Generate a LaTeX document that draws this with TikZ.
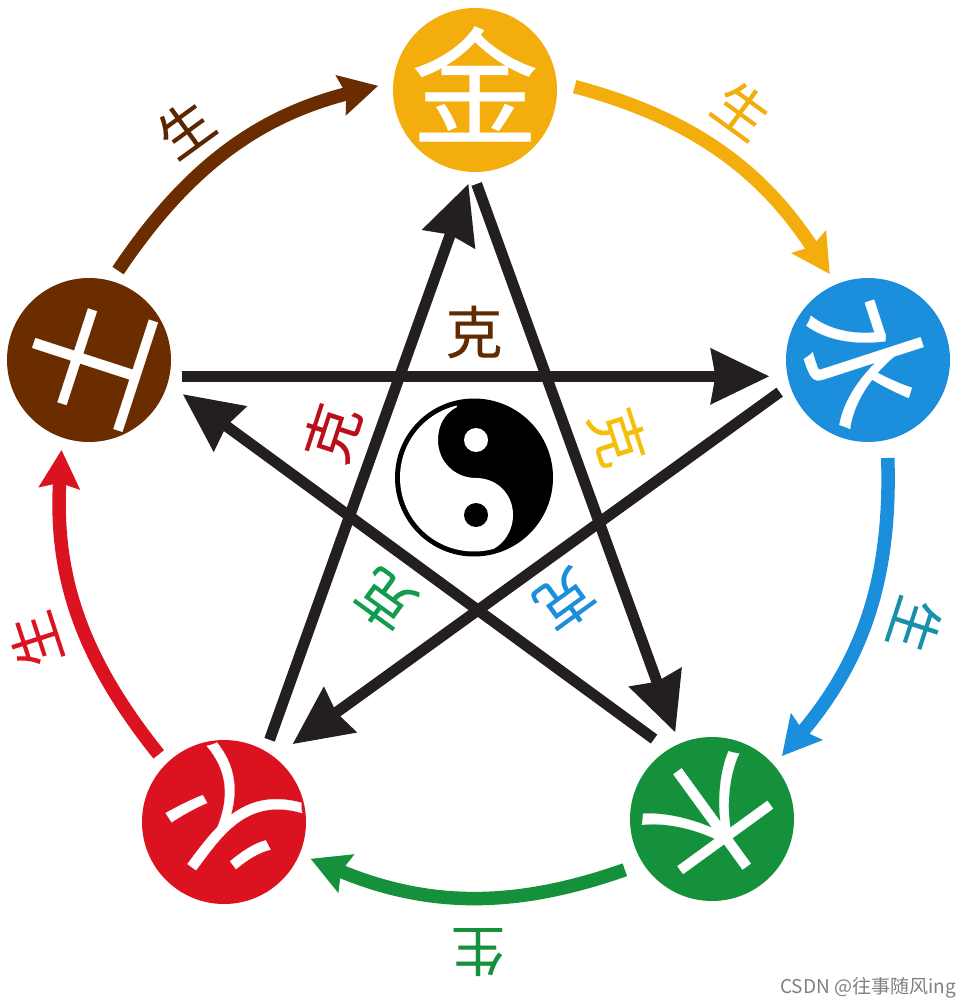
\documentclass[tikz,border=0pt]{standalone}
\usepackage{fontspec}
\usetikzlibrary{arrows.meta}
\newfontfamily\cjk[FakeBold=0.2]{Noto Sans CJK SC}
\newfontfamily\cjksmall[FakeBold=0.1]{Noto Sans CJK SC}
\newfontfamily\cjklight{Noto Sans CJK SC}
\definecolor{cjin}{HTML}{F3AE0E}
\definecolor{cshui}{HTML}{1B8FDC}
\definecolor{cmu}{HTML}{14913A}
\definecolor{chuo}{HTML}{DB1220}
\definecolor{ctu}{HTML}{6B2D00}
\definecolor{cstar}{HTML}{231F20}
\tikzset{
  element/.style={circle,fill=#1,minimum size=164pt,inner sep=0pt,outer sep=12pt},
  bigglyph/.style={text=#1,inner sep=0pt,font=\cjk\fontsize{128}{128}\selectfont},
  sheng/.style={text=#1,inner sep=0pt,font=\cjksmall\fontsize{54}{54}\selectfont},
  kee/.style={text=#1,inner sep=0pt,font=\cjksmall\fontsize{57}{57}\selectfont},
  star/.style={draw=cstar,line width=11pt,-{Stealth[length=58pt,width=54pt,inset=4pt]}},
  ring/.style={draw=#1,line width=13.5pt,bend left=21,-{Stealth[length=38pt,width=40pt,inset=5pt]}},
}
\begin{document}
\begin{tikzpicture}[x=1pt,y=-1pt]
\useasboundingbox (0,0) rectangle (972,1008);
\node[element=cjin] (jin) at (475,90) {};
\node[element=cshui] (shui) at (868,360) {};
\node[element=cmu] (mu) at (712,819) {};
\node[element=chuo] (huo) at (224,822) {};
\node[element=ctu] (tu) at (89,360) {};
\node[bigglyph=white] (gjin) at (475,84) {金};
\node[bigglyph=white,rotate=-72] (gshui) at (866,360) {水};
\node[bigglyph=white,rotate=-144] (gmu) at (712,819) {木};
\node[bigglyph=white,rotate=144] (ghuo) at (226,820) {火};
\node[bigglyph=white,rotate=72] (gtu) at (87,360) {土};
% star
\draw[star,shorten >=6pt] (tu.-10) -- (shui.190);
\draw[star,shorten >=10pt] (shui.200) -- (huo.50);
\draw[star] (huo.61) -- (jin.266);
\draw[star] (jin.271) -- (mu.113);
\draw[star,shorten <=5pt,shorten >=6pt] (mu.125) -- (tu.-19);
% ring
\draw[ring=ctu,shorten >=3pt] (tu.72) to (jin.177);
\draw[ring=cjin,shorten <=6pt] (jin.3) to (shui.114);
\draw[ring=cshui,shorten <=6pt] (shui.-78) to (mu.42);
\draw[ring=cmu,shorten <=7pt] (mu.211) to (huo.-23);
\draw[ring=chuo] (huo.134) to (tu.253);
% taiji
\fill[black] (474,477.5) circle[radius=79];
\begin{scope}
\clip (474,477.5) circle[radius=74];
\fill[white] (457,407) .. controls (445,413) and (438,425) .. (438,440)
  .. controls (438,462) and (455,478) .. (476,478)
  .. controls (497,478) and (513,494) .. (513,515)
  .. controls (513,536) and (497,553) .. (476,554)
  -- (400,600) -- (300,600) -- (300,380) -- (450,385) -- cycle;
\end{scope}
\fill[white] (476,440) circle[radius=12];
\fill[black] (476,515) circle[radius=12];
% sheng
\node[sheng=ctu!85!black,rotate=36] (s1) at (185,128) {生};
\node[sheng=cjin,rotate=-36] (s2) at (742,110) {生};
\node[sheng=cshui!70!cmu,rotate=-108] (s3) at (915,625) {生};
\node[sheng=cmu,rotate=180] (s4) at (478,952) {生};
\node[sheng=chuo,rotate=108] (s5) at (35,640) {生};
% ke
\node[kee=ctu!80!orange!70!black] (k1) at (474,332) {克};
\node[kee=cjin!80!yellow,rotate=-72] (k2) at (618,437) {克};
\node[kee=cshui,rotate=-144] (k3) at (565,600) {克};
\node[kee=cmu!90!cyan,rotate=144] (k4) at (385,600) {克};
\node[kee=chuo!85!black,rotate=72] (k5) at (332,433) {克};
% watermark
\node[text=black!50,inner sep=0pt,font=\cjklight\fontsize{19}{19}\selectfont] (wm) at (868,988) {CSDN @往事随风ing};
\end{tikzpicture}
\end{document}
